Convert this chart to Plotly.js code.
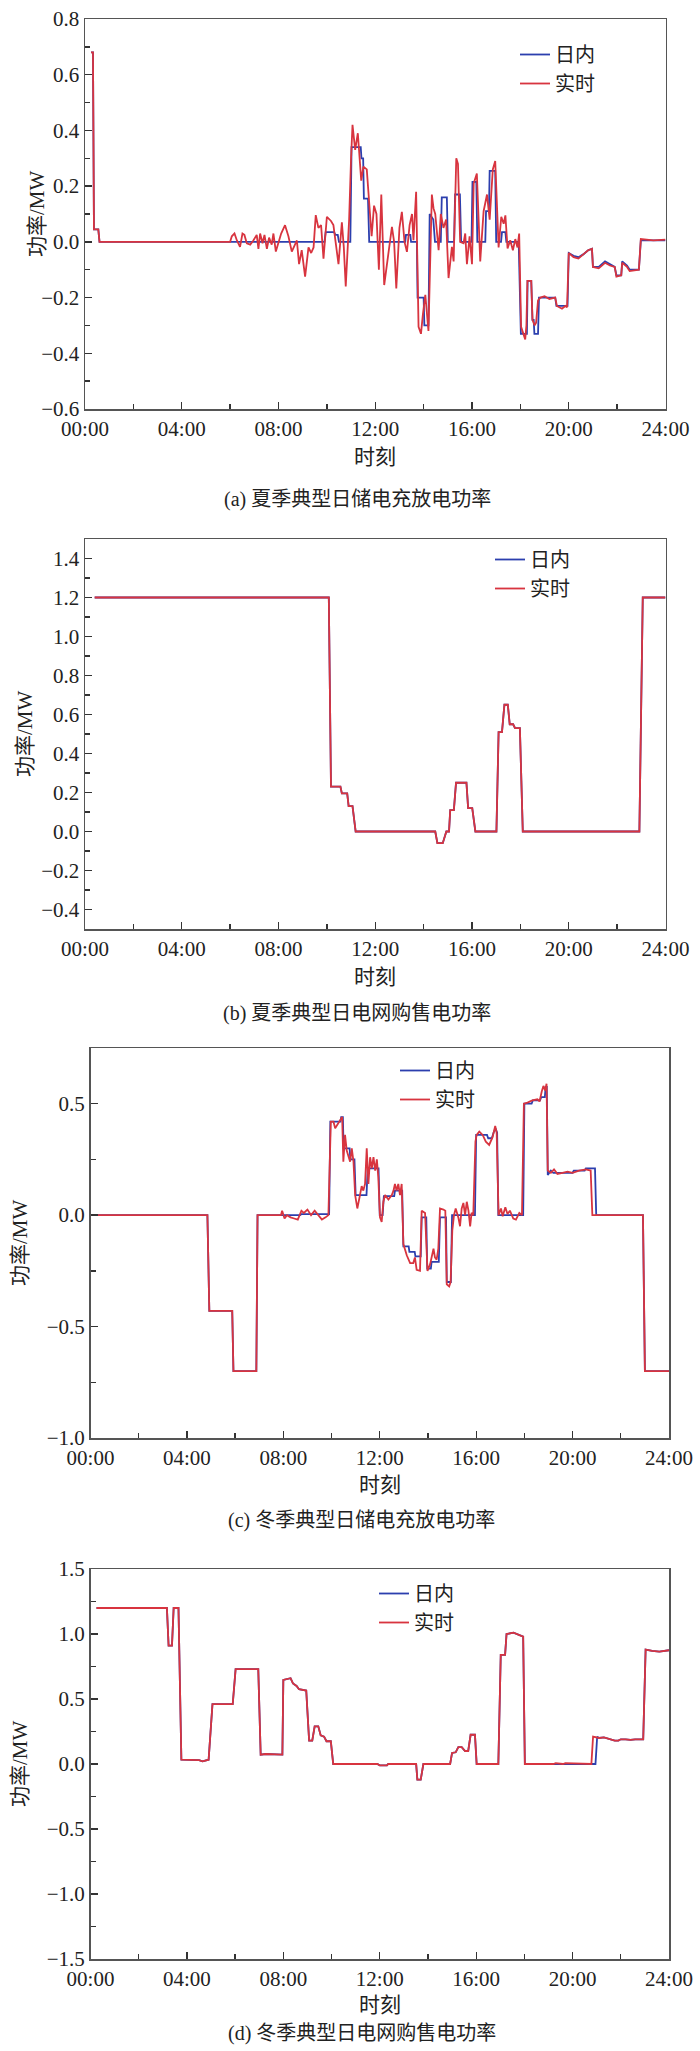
<!DOCTYPE html>
<html>
<head>
<meta charset="utf-8">
<script src="https://cdn.plot.ly/plotly-3.0.1.min.js"></script>
<style>html,body{margin:0;padding:0;background:#fff;}#chart{width:700px;height:2051px;}</style>
</head>
<body>
<div id="chart"></div>
<script>
// ---------- tick labels ----------
const hourTicks = [0, 4, 8, 12, 16, 20, 24];
const hourLabels = ["00:00", "04:00", "08:00", "12:00", "16:00", "20:00", "24:00"];
const seriesNames = ["日内", "实时"];
const captions = ["(a) 夏季典型日储电充放电功率", "(b) 夏季典型日电网购售电功率",
                  "(c) 冬季典型日储电充放电功率", "(d) 冬季典型日电网购售电功率"];

// ---------- (a) summer storage power ----------
const aIntraT = [0.25,0.33,0.37,0.55,0.6,9.9,9.95,10.3,10.35,10.45,10.5,10.97,11.02,11.4,11.43,11.5,11.53,11.7,11.75,
  13.24,13.27,13.45,13.48,13.72,13.75,14.0,14.03,14.2,14.25,14.4,14.47,14.71,14.75,14.96,15.0,15.26,15.3,15.5,15.55,
  15.98,16.02,16.18,16.22,16.55,16.58,16.7,16.73,16.96,17.0,17.2,17.24,17.38,17.42,17.93,18.02,18.27,18.3,18.45,18.5,
  18.55,18.58,18.73,18.77,19.44,19.49,19.95,20.0,20.2,20.4,20.6,20.8,20.96,21.0,21.24,21.5,21.7,21.9,21.97,22.17,22.21,
  22.41,22.52,22.9,22.98,24.0];
const aIntraV = [0.68,0.68,0.045,0.045,0,0,0.035,0.035,0.025,0.025,0,0,0.34,0.34,0.30,0.30,0.155,0.155,0,
  0,0.025,0.025,0,0,-0.2,-0.2,-0.3,-0.3,0.1,0.08,0,0,0.16,0.16,0,0,0.17,0.17,0,
  0,0.215,0.215,0,0,0.11,0.11,0.255,0.255,0,0,0.035,0.035,0,0,-0.33,-0.33,-0.14,-0.14,-0.28,
  -0.28,-0.33,-0.33,-0.2,-0.2,-0.23,-0.23,-0.04,-0.05,-0.055,-0.045,-0.03,-0.025,-0.09,-0.09,-0.07,-0.08,-0.09,-0.12,-0.12,-0.07,
  -0.085,-0.1,-0.1,0.005,0.005];
const aRealT = [0.25,0.33,0.37,0.55,0.6,6.0,6.07,6.18,6.28,6.41,6.51,6.59,6.69,6.83,6.96,7.1,7.17,7.24,7.34,7.42,7.52,7.61,
  7.72,7.79,7.89,8.0,8.11,8.27,8.41,8.55,8.69,8.76,8.85,8.96,9.1,9.24,9.35,9.45,9.54,9.65,9.76,9.86,10.0,10.17,10.27,10.37,
  10.48,10.62,10.7,10.78,10.92,11.0,11.06,11.17,11.28,11.42,11.51,11.65,11.75,11.85,11.95,12.05,12.15,12.25,12.37,12.55,
  12.69,12.78,12.87,13.0,13.1,13.21,13.31,13.42,13.52,13.58,13.69,13.79,13.89,13.97,14.07,14.14,14.2,14.34,14.41,14.48,
  14.62,14.71,14.82,14.93,15.03,15.17,15.24,15.35,15.42,15.51,15.65,15.72,15.79,15.9,16.0,16.07,16.2,16.34,16.48,16.62,
  16.73,16.86,16.96,17.1,17.21,17.31,17.38,17.47,17.58,17.69,17.79,17.88,17.95,18.03,18.14,18.2,18.25,18.29,18.45,18.5,
  18.59,18.65,18.73,18.83,19.0,19.2,19.44,19.51,19.72,19.86,19.93,20.0,20.2,20.4,20.6,20.8,20.96,21.0,21.24,21.5,21.7,
  21.9,21.97,22.17,22.21,22.41,22.52,22.9,22.98,23.5,24.0];
const aRealV = [0.68,0.68,0.045,0.045,0,0,0.02,0.03,0.005,-0.018,0.03,0.025,-0.005,-0.01,0.005,0.025,-0.025,0.03,-0.005,0.025,-0.025,0.015,
  -0.01,0.03,-0.035,0.0,0.03,0.06,0.02,-0.035,-0.01,0.005,-0.08,-0.03,-0.125,-0.02,-0.04,-0.02,0.096,0.05,0.06,-0.06,0.09,0.075,0.06,0.0,
  -0.08,0.07,-0.02,-0.16,0.08,0.3,0.42,0.33,0.39,0.22,0.27,0.26,0.15,0.02,0.13,0.1,-0.1,0.17,-0.155,-0.04,
  0.054,0.0,-0.167,0.05,0.108,0.0,-0.036,0.06,0.1,0.006,0.18,-0.305,-0.33,-0.26,-0.19,-0.26,-0.32,0.17,0.12,0.1,
  -0.03,0.1,0.05,0.08,-0.13,-0.018,-0.07,0.30,0.28,0.0,-0.005,0.03,-0.08,0.02,-0.08,0.21,0.245,-0.07,0.11,0.17,
  0.08,0.26,0.29,-0.02,0.09,0.065,0.095,-0.024,0.006,-0.03,0.01,-0.02,0.03,-0.305,-0.33,-0.35,-0.3,-0.14,-0.14,-0.28,
  -0.3,-0.29,-0.21,-0.2,-0.195,-0.205,-0.2,-0.23,-0.24,-0.23,-0.235,-0.04,-0.055,-0.06,-0.045,-0.03,-0.025,-0.09,-0.095,-0.075,-0.085,
  -0.09,-0.125,-0.12,-0.075,-0.09,-0.105,-0.1,0.01,0.005,0.008];

// ---------- (b) summer grid power ----------
const bIntraT = [0.4,10.08,10.17,10.56,10.62,10.84,10.9,11.06,11.19,14.48,14.57,14.79,14.94,15.05,15.1,15.25,15.34,15.77,
  15.84,16.01,16.14,17.01,17.1,17.24,17.34,17.48,17.56,17.7,17.78,17.98,18.1,22.92,23.06,24.0];
const bIntraV = [1.2,1.2,0.23,0.23,0.195,0.195,0.13,0.13,0.0,0.0,-0.06,-0.06,0.0,0.0,0.11,0.11,0.25,0.25,
  0.12,0.12,0.0,0.0,0.51,0.51,0.65,0.65,0.55,0.55,0.53,0.53,0.0,0.0,1.2,1.2];
const bRealT = [0.4,10.08,10.17,10.56,10.62,10.84,10.9,11.06,11.19,14.48,14.57,14.79,14.94,15.05,15.1,15.25,15.34,15.77,
  15.84,16.01,16.14,17.01,17.1,17.24,17.34,17.48,17.56,17.7,17.78,17.98,18.1,22.92,23.06,24.0];
const bRealV = [1.2,1.2,0.23,0.23,0.195,0.195,0.13,0.13,0.0,0.0,-0.06,-0.06,0.0,0.0,0.11,0.11,0.25,0.25,
  0.12,0.12,0.0,0.0,0.51,0.51,0.65,0.65,0.55,0.55,0.53,0.53,0.0,0.0,1.2,1.2];

// ---------- (c) winter storage power ----------
const cIntraT = [0.25,4.85,4.93,5.88,5.93,6.88,6.93,8.7,8.75,9.9,9.95,10.37,10.4,10.47,10.5,10.75,10.78,10.95,11.0,11.45,
  11.5,11.95,12.0,12.12,12.17,12.6,12.63,12.93,12.98,13.2,13.23,13.45,13.48,13.7,13.74,13.93,13.97,14.12,14.15,14.45,14.5,
  14.75,14.78,14.95,15.0,15.95,16.0,16.45,16.5,16.65,16.72,16.8,16.87,16.92,17.95,18.0,18.3,18.35,18.65,18.7,18.85,18.88,
  18.93,18.97,19.1,19.2,20.0,20.05,20.5,20.55,20.93,20.98,22.92,23.0,24.0];
const cIntraV = [0,0,-0.43,-0.43,-0.70,-0.70,0,0,0.005,0.005,0.42,0.42,0.44,0.44,0.3,0.3,0.25,0.25,0.09,0.09,
  0.21,0.21,0.0,0.0,0.085,0.085,0.11,0.11,-0.14,-0.14,-0.165,-0.165,-0.185,-0.185,-0.01,-0.01,-0.24,-0.24,-0.21,-0.21,-0.01,
  -0.01,-0.3,-0.3,0.0,0.0,0.36,0.36,0.345,0.345,0.37,0.39,0.37,0.0,0.0,0.5,0.5,0.515,0.515,0.53,0.53,0.575,
  0.575,0.18,0.2,0.19,0.19,0.2,0.2,0.21,0.21,0.0,0.0,-0.70,-0.70];
const cRealT = [0.25,4.85,4.93,5.88,5.93,6.88,6.93,7.9,7.95,8.05,8.15,8.3,8.45,8.6,8.75,8.85,9.0,9.15,9.3,9.45,9.6,9.75,
  9.87,9.97,10.08,10.15,10.28,10.38,10.44,10.49,10.56,10.63,10.77,10.84,10.91,10.98,11.07,11.18,11.25,11.32,11.39,11.46,
  11.53,11.6,11.67,11.74,11.81,11.88,11.94,12.01,12.08,12.15,12.22,12.36,12.5,12.57,12.63,12.7,12.77,12.84,12.91,12.98,
  13.12,13.26,13.39,13.46,13.53,13.67,13.74,13.88,13.98,14.09,14.23,14.29,14.36,14.43,14.5,14.64,14.72,14.78,14.88,14.94,
  15.01,15.08,15.15,15.26,15.33,15.4,15.47,15.54,15.61,15.68,15.75,15.81,15.88,15.97,16.02,16.13,16.27,16.4,16.54,16.68,
  16.79,16.85,16.93,17.03,17.1,17.21,17.3,17.4,17.54,17.65,17.79,17.9,17.98,18.13,18.33,18.54,18.63,18.72,18.79,18.86,
  18.92,18.97,19.1,19.23,19.37,19.58,19.79,20.0,20.27,20.55,20.75,20.82,22.92,23.0,24.0];
const cRealV = [0,0,-0.43,-0.43,-0.70,-0.70,0,0,0.02,-0.015,0.0,-0.01,-0.015,-0.02,0.02,0.01,0.025,0.0,0.02,0.0,-0.02,-0.01,
  0.0,0.42,0.42,0.39,0.415,0.435,0.44,0.24,0.36,0.29,0.24,0.30,0.24,0.09,0.03,0.09,0.13,0.11,0.14,0.30,
  0.14,0.26,0.21,0.26,0.20,0.25,0.17,-0.01,-0.03,0.06,0.09,0.07,0.09,0.11,0.14,0.11,0.14,0.09,0.14,-0.13,
  -0.18,-0.215,-0.215,-0.19,-0.245,-0.25,0.02,0.01,-0.25,-0.22,-0.15,-0.19,-0.2,-0.15,0.03,0.025,0.02,-0.31,-0.32,-0.30,
  -0.07,0.0,0.03,-0.01,-0.05,0.03,0.055,0.0,0.06,0.02,-0.05,0.01,0.0,0.33,0.36,0.375,0.36,0.33,0.315,0.35,
  0.40,0.37,0.0,0.03,-0.005,0.035,0.005,0.02,-0.015,-0.02,0.01,0.0,0.5,0.505,0.515,0.52,0.51,0.555,0.58,0.56,
  0.59,0.2,0.19,0.205,0.185,0.19,0.195,0.19,0.2,0.205,0.2,0.0,0.0,-0.70,-0.70];

// ---------- (d) winter grid power ----------
const dIntraT = [0.25,3.17,3.24,3.38,3.45,3.65,3.77,4.5,4.65,4.9,5.06,5.9,6.02,6.96,7.06,7.27,7.96,8.0,8.3,8.4,8.55,8.65,
  8.95,9.07,9.2,9.3,9.45,9.55,9.69,9.79,9.97,10.07,11.9,12.0,12.3,12.35,13.51,13.56,13.7,13.81,14.92,15.0,15.15,15.26,15.4,
  15.54,15.67,15.77,15.95,16.02,16.92,17.02,17.2,17.26,17.55,17.88,17.95,18.02,20.95,21.02,21.1,21.3,21.5,21.75,21.9,22.0,
  22.2,22.4,22.6,22.93,23.03,23.3,23.6,24.0];
const dIntraV = [1.2,1.2,0.91,0.91,1.2,1.2,0.033,0.03,0.02,0.033,0.46,0.46,0.73,0.73,0.072,0.077,0.072,0.647,0.66,0.62,0.6,0.575,
  0.565,0.18,0.18,0.29,0.29,0.22,0.21,0.175,0.175,0.0,0.0,-0.01,-0.01,0.0,0.0,-0.12,-0.12,0.0,0.0,0.085,0.09,0.13,0.13,
  0.1,0.1,0.225,0.225,0.0,0.0,0.84,0.84,1.0,1.01,0.99,0.98,0.0,0.0,0.21,0.2,0.205,0.195,0.18,0.18,0.19,
  0.19,0.185,0.19,0.19,0.88,0.87,0.865,0.875];
const dRealT = [0.25,3.17,3.24,3.38,3.45,3.65,3.77,4.5,4.65,4.9,5.06,5.9,6.02,6.96,7.06,7.27,7.96,8.0,8.3,8.4,8.55,8.65,
  8.95,9.07,9.2,9.3,9.45,9.55,9.69,9.79,9.97,10.07,11.9,12.0,12.3,12.35,13.51,13.56,13.7,13.81,14.92,15.0,15.15,15.26,15.4,
  15.54,15.67,15.77,15.95,16.02,16.92,17.02,17.2,17.26,17.55,17.88,17.95,18.02,19.2,19.3,19.6,19.7,20.78,20.85,21.1,21.3,
  21.5,21.75,21.9,22.0,22.2,22.4,22.6,22.93,23.03,23.3,23.6,24.0];
const dRealV = [1.2,1.2,0.91,0.91,1.2,1.2,0.033,0.03,0.02,0.033,0.46,0.46,0.73,0.73,0.072,0.077,0.072,0.647,0.66,0.62,0.6,0.575,
  0.565,0.18,0.18,0.29,0.29,0.22,0.21,0.175,0.175,0.0,0.0,-0.01,-0.01,0.0,0.0,-0.12,-0.12,0.0,0.0,0.085,0.09,0.13,0.13,
  0.1,0.1,0.225,0.225,0.0,0.0,0.84,0.84,1.0,1.01,0.99,0.98,0.0,0.0,0.006,0.0,0.006,0.0,0.21,0.2,0.205,
  0.195,0.18,0.18,0.19,0.19,0.185,0.19,0.19,0.88,0.87,0.865,0.875];

// ---------- styling ----------
const FONT = 'Liberation Serif, Noto Sans CJK SC, serif';
const BLUE = '#2c3fae';
const RED = '#d8343f';
const W = 700, H = 2051;
const px2x = p => p / W;
const px2y = p => 1 - p / H;

// panel geometry in pixels: [left, right, top, bottom]
const panels = [
  {box: [85, 665.5, 19, 409],   range: [-0.6, 0.8],  dtick: 0.2, minor: 0.1,  tick0: 0},
  {box: [85, 665.5, 539, 929],  range: [-0.5, 1.5],  dtick: 0.2, minor: 0.1,  tick0: 0},
  {box: [90.5, 669, 1048, 1438], range: [-1.0, 0.75], dtick: 0.5, minor: 0.25, tick0: 0},
  {box: [90.5, 669, 1569, 1959], range: [-1.5, 1.5],  dtick: 0.5, minor: 0.25, tick0: 0}
];
const dataSets = [
  [aIntraT, aIntraV, aRealT, aRealV],
  [bIntraT, bIntraV, bRealT, bRealV],
  [cIntraT, cIntraV, cRealT, cRealV],
  [dIntraT, dIntraV, dRealT, dRealV]
];
const legendPos = [[515, 35], [490, 540], [395, 1051], [374, 1574]];
const yTitleX = [37, 25, 20, 20];
const xTitleY = [457, 977, 1485, 2005];
const captionY = [500, 1013, 1520, 2033];

const traces = [];
const layout = {
  width: W, height: H,
  margin: {l: 0, r: 0, t: 0, b: 0},
  paper_bgcolor: '#fff', plot_bgcolor: '#fff',
  font: {family: FONT, size: 20, color: '#222'},
  showlegend: true,
  annotations: []
};

panels.forEach((p, i) => {
  const n = i === 0 ? '' : String(i + 1);
  const [l, r, t, b] = p.box;
  const ds = dataSets[i];
  const legName = 'legend' + n;
  traces.push({x: ds[0], y: ds[1], type: 'scatter', mode: 'lines', name: seriesNames[0],
    xaxis: 'x' + n, yaxis: 'y' + n, legend: legName,
    line: {color: BLUE, width: 1.8}});
  traces.push({x: ds[2], y: ds[3], type: 'scatter', mode: 'lines', name: seriesNames[1],
    xaxis: 'x' + n, yaxis: 'y' + n, legend: legName,
    line: {color: RED, width: 1.8}});

  layout['xaxis' + n] = {
    domain: [px2x(l), px2x(r)], anchor: 'y' + n, range: [0, 24],
    tickmode: 'array', tickvals: hourTicks, ticktext: hourLabels,
    ticks: 'inside', ticklen: 7, tickwidth: 1.3, tickcolor: '#333',
    showline: true, mirror: true, linecolor: '#555', linewidth: 1.5,
    showgrid: false, zeroline: false,
    tickfont: {family: FONT, size: 21, color: '#222'},
    minor: {ticks: 'inside', ticklen: 5, tickwidth: 1.3, tickcolor: '#333',
            tickmode: 'array', tickvals: [2, 6, 10, 14, 18, 22], showgrid: false}
  };
  layout['yaxis' + n] = {
    domain: [px2y(b), px2y(t)], anchor: 'x' + n, range: p.range,
    tickmode: 'linear', tick0: p.tick0, dtick: p.dtick, tickformat: '.1f',
    ticks: 'inside', ticklen: 7, tickwidth: 1.3, tickcolor: '#333',
    showline: true, mirror: true, linecolor: '#555', linewidth: 1.5,
    showgrid: false, zeroline: false,
    tickfont: {family: FONT, size: 21, color: '#222'},
    minor: {ticks: 'inside', ticklen: 5, tickwidth: 1.3, tickcolor: '#333',
            tickmode: 'linear', tick0: 0, dtick: p.minor, showgrid: false}
  };
  layout[legName] = {
    x: px2x(legendPos[i][0]), y: px2y(legendPos[i][1]), xanchor: 'left', yanchor: 'top',
    bgcolor: 'rgba(0,0,0,0)', borderwidth: 0,
    font: {family: FONT, size: 20, color: '#222'},
    tracegroupgap: 0
  };
  layout.annotations.push({
    text: '功率/MW', xref: 'paper', yref: 'paper',
    x: px2x(yTitleX[i]), y: px2y((t + b) / 2), xanchor: 'center', yanchor: 'middle',
    textangle: -90, showarrow: false, font: {family: FONT, size: 21, color: '#222'}
  });
  layout.annotations.push({
    text: '时刻', xref: 'paper', yref: 'paper',
    x: px2x((l + r) / 2), y: px2y(xTitleY[i]), xanchor: 'center', yanchor: 'middle',
    showarrow: false, font: {family: FONT, size: 21, color: '#222'}
  });
  layout.annotations.push({
    text: captions[i], xref: 'paper', yref: 'paper',
    x: px2x((l + r) / 2 - 18), y: px2y(captionY[i]), xanchor: 'center', yanchor: 'middle',
    showarrow: false, font: {family: FONT, size: 20, color: '#222'}
  });
});

Plotly.newPlot('chart', traces, layout, {displayModeBar: false, staticPlot: true});
</script>
</body>
</html>
